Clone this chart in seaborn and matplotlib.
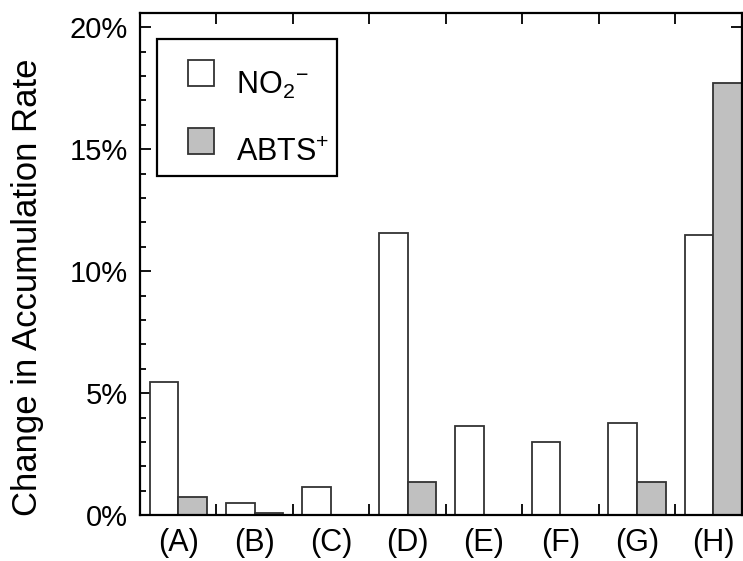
import matplotlib
matplotlib.use("Agg")
import matplotlib.pyplot as plt
import matplotlib.patches as mpatches
from matplotlib.legend_handler import HandlerPatch
import seaborn as sns
import pandas as pd
import numpy as np
from matplotlib.ticker import MultipleLocator, FixedLocator, PercentFormatter

categories = ["(A)", "(B)", "(C)", "(D)", "(E)", "(F)", "(G)", "(H)"]
no2_values = [5.48, 0.52, 1.17, 11.56, 3.67, 2.99, 3.78, 11.49]
abts_values = [0.74, 0.08, 0.0, 1.38, 0.0, 0.0, 1.38, 17.73]
series_names = ["NO$_2$$^{-}$", "ABTS$^{+}$"]
y_ticks = [0, 5, 10, 15, 20]

sns.set_style("ticks")
plt.rcParams['font.family'] = ['Liberation Sans', 'DejaVu Sans']
plt.rcParams['mathtext.fontset'] = 'custom'
plt.rcParams['mathtext.rm'] = 'Liberation Sans'
plt.rcParams['mathtext.it'] = 'Liberation Sans:italic'
plt.rcParams['mathtext.bf'] = 'Liberation Sans:bold'
for k in ['text.color', 'axes.labelcolor', 'xtick.color', 'ytick.color', 'axes.edgecolor']:
    plt.rcParams[k] = 'black'

df = pd.DataFrame({
    "cat": categories * 2,
    "series": [series_names[0]] * len(categories) + [series_names[1]] * len(categories),
    "value": no2_values + abts_values,
})

fig = plt.figure(figsize=(7.43, 5.61), dpi=100)
AX_L, AX_R, AX_T, AX_B = 140, 742, 13.3, 515.3
ax = fig.add_axes([AX_L / 743, 1 - AX_B / 561, (AX_R - AX_L) / 743, (AX_B - AX_T) / 561])


def ax_x(px):
    return (px - AX_L) / (AX_R - AX_L)


def ax_y(py):
    return (AX_B - py) / (AX_B - AX_T)


sns.barplot(data=df, x="cat", y="value", hue="series", order=categories,
            hue_order=series_names, palette=["white", "#c0c0c0"],
            width=0.75, gap=0, edgecolor="#333333", linewidth=1.3,
            saturation=1, ax=ax, errorbar=None)

ax.set_xlim(-0.5, 7.5 - 9.5 / 76.2)
ax.set_ylim(0, 20.57)

for s in ax.spines.values():
    s.set_linewidth(1.6)
    s.set_color("black")
    s.set_visible(True)

ax.yaxis.set_major_locator(FixedLocator(y_ticks))
ax.yaxis.set_minor_locator(MultipleLocator(1))
ax.yaxis.set_major_formatter(PercentFormatter(decimals=0))
ax.tick_params(axis="y", which="major", direction="in", length=8, width=1.3,
               labelsize=21, pad=9, right=True, left=True, color="black")
ax.tick_params(axis="y", which="minor", direction="in", length=4.5, width=1.3, left=True, right=False)

ax.xaxis.set_minor_locator(FixedLocator(np.arange(0.5, 7.0, 1.0)))
ax.tick_params(axis="x", which="major", length=0, labelsize=22, pad=9)
ax.tick_params(axis="x", which="minor", direction="in", length=8, width=1.3,
               top=True, bottom=True)

ax.set_xlabel("")
ax.set_ylabel("Change in Accumulation Rate", fontsize=25)
ax.yaxis.label.set_va("center")
ax.yaxis.set_label_coords(ax_x(28), ax_y(287))

SQ = 26 * 72 / 100          # square handle side (points)
SQ_CENTER = 20.5 * 72 / 100  # handle centre above text baseline (points)


def square_patch(legend, orig_handle, xdescent, ydescent, width, height, fontsize):
    return mpatches.Rectangle((-xdescent + width - SQ, SQ_CENTER - SQ / 2), SQ, SQ)


leg = ax.legend(loc="upper left", bbox_to_anchor=(ax_x(188), ax_y(70)),
                fontsize=22, frameon=False,
                handlelength=0.85, handleheight=0.7, handletextpad=0.72,
                borderpad=0, labelspacing=1.21, borderaxespad=0, title=None,
                handler_map={mpatches.Rectangle: HandlerPatch(patch_func=square_patch)})

# legend frame
frame = mpatches.Rectangle((ax_x(157), ax_y(176)), ax_x(337) - ax_x(157), ax_y(39) - ax_y(176),
                           transform=ax.transAxes, facecolor="white", edgecolor="black",
                           linewidth=1.6, zorder=4.5)
ax.add_patch(frame)

fig.savefig("out.png", dpi=100)
